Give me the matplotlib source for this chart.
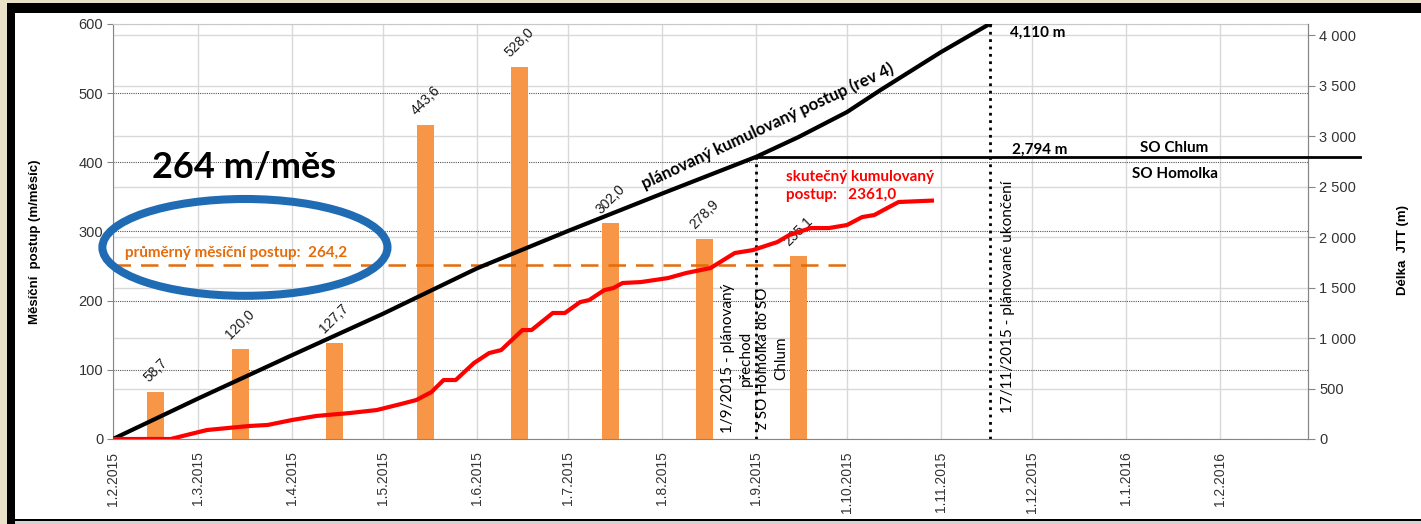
import matplotlib
matplotlib.use("Agg")
import matplotlib.pyplot as plt
import matplotlib.dates as mdates
from matplotlib.patches import Ellipse, Rectangle
from matplotlib.ticker import FuncFormatter
import pandas as pd
from datetime import datetime

plt.rcParams['font.family'] = ['Liberation Sans', 'DejaVu Sans']

# monthly advance (bars), drawn on the 15th of each month
bar_dates = pd.to_datetime(["2015-02-15", "2015-03-15", "2015-04-15", "2015-05-15",
                            "2015-06-15", "2015-07-15", "2015-08-15", "2015-09-15"])
bar_heights = [68, 130, 139, 454, 538, 312, 289, 265]
bar_labels = ["58,7", "120,0", "127,7", "443,6", "528,0", "302,0", "278,9", "235,1"]

# planned cumulative advance (rev 4), right axis
plan_dates = pd.to_datetime(["2015-02-01", "2015-03-01", "2015-04-01", "2015-05-01", "2015-06-01",
                             "2015-07-01", "2015-08-01", "2015-09-01", "2015-09-15", "2015-10-01",
                             "2015-10-12", "2015-11-01", "2015-11-17"])
plan_vals = [0, 400, 830, 1240, 1690, 2060, 2430, 2794, 2990, 3238, 3455, 3832, 4110]

# actual cumulative advance, right axis
act_dates = pd.to_datetime(["2015-02-01", "2015-02-20", "2015-02-26", "2015-03-04", "2015-03-12",
                            "2015-03-18", "2015-03-24", "2015-04-01", "2015-04-09", "2015-04-20",
                            "2015-04-29", "2015-05-07", "2015-05-12", "2015-05-17", "2015-05-21",
                            "2015-05-25", "2015-05-31", "2015-06-05", "2015-06-09", "2015-06-16",
                            "2015-06-19", "2015-06-26", "2015-06-30", "2015-07-05", "2015-07-08",
                            "2015-07-13", "2015-07-16", "2015-07-19", "2015-07-25", "2015-08-03",
                            "2015-08-09", "2015-08-17", "2015-08-25", "2015-08-31", "2015-09-05",
                            "2015-09-08", "2015-09-12", "2015-09-19", "2015-09-25", "2015-10-01",
                            "2015-10-06", "2015-10-10", "2015-10-13", "2015-10-18", "2015-10-29"])
act_vals = [0, 0, 45, 89, 112, 129, 139, 188, 228, 257,
            287, 347, 386, 465, 584, 584, 752, 851, 881, 1079,
            1079, 1248, 1248, 1356, 1376, 1475, 1495, 1545, 1554, 1594,
            1644, 1693, 1842, 1871, 1921, 1950, 2020, 2089, 2089, 2119,
            2198, 2218, 2267, 2347, 2361]

avg_level = 252
avg_span = pd.to_datetime(["2015-02-01", "2015-10-01"])
boundary_len = 2794
total_len = 4110
transfer_date = datetime(2015, 9, 1)
end_date = datetime(2015, 11, 17)

left_ticks = [0, 100, 200, 300, 400, 500, 600]
right_ticks = [0, 500, 1000, 1500, 2000, 2500, 3000, 3500, 4000]
month_ticks = pd.date_range("2015-02-01", "2016-02-01", freq="MS")

W, H = 1421, 524
fig = plt.figure(figsize=(W / 100, H / 100), dpi=100)
fig.patch.set_facecolor('#E9E2C9')
# slide frame
fig.add_artist(Rectangle((7 / W, 0), 1, 521 / H, transform=fig.transFigure,
                         facecolor='black', edgecolor='none', zorder=-10))
fig.add_artist(Rectangle((15 / W, 5 / H), 1, 506 / H, transform=fig.transFigure,
                         facecolor='white', edgecolor='none', zorder=-9))
fig.add_artist(Rectangle((15 / W, 0), 1, 3 / H, transform=fig.transFigure,
                         facecolor='#D4D4D4', edgecolor='none', zorder=-8))

ax = fig.add_axes([113 / W, 1 - 439 / H, 1195 / W, 415 / H])
ax2 = ax.twinx()
ax.set_facecolor('white')

ax.set_xlim(datetime(2015, 2, 1), datetime(2016, 3, 1))
ax.set_ylim(0, 600)
ax2.set_ylim(0, total_len)

# grid
ax.set_axisbelow(True)
ax.xaxis.grid(True, color='#D9D9D9', lw=1)
ax.yaxis.grid(True, color='#555555', ls=(0, (1, 1)), lw=0.8)
for t in right_ticks[1:]:
    ax.axhline(t * 600 / total_len, color='#D9D9D9', lw=1, zorder=0.5)

for s in ['left', 'bottom', 'right']:
    ax.spines[s].set_color('#868686')
ax.spines['top'].set_color('#C8C8C8')
for s in ['left', 'bottom', 'top']:
    ax2.spines[s].set_visible(False)
ax2.spines['right'].set_color('#868686')

ax.set_yticks(left_ticks)
ax.set_xticks(month_ticks)
ax.xaxis.set_major_formatter(FuncFormatter(
    lambda v, p: "{0.day}.{0.month}.{0.year}".format(mdates.num2date(v))))
ax.tick_params(axis='y', direction='out', length=4, color='#868686',
               labelsize=10.5, labelcolor='#333333', pad=3)
ax.tick_params(axis='x', length=0, labelsize=10, labelcolor='#333333', pad=9, labelrotation=90)
ax2.set_yticks(right_ticks)
ax2.yaxis.set_major_formatter(FuncFormatter(lambda v, p: f"{int(v):,}".replace(",", " ")))
ax2.tick_params(axis='y', direction='out', length=5, color='#868686',
                labelsize=10.5, labelcolor='#333333', pad=3)

# bars + labels
ax.bar(bar_dates, bar_heights, width=5.4, color='#F79646', zorder=2)
for d, h, lbl in zip(bar_dates, bar_heights, bar_labels):
    ax.annotate(lbl, (d, h), xytext=(0, 5), textcoords='offset points', rotation=45,
                ha='center', va='bottom', fontsize=10, color='#1A1A1A')

# average
ax.plot(avg_span, [avg_level, avg_level], color='#E46C0A', lw=1.8, dashes=(7, 4), zorder=3)
ax.text(datetime(2015, 2, 5), 269, "průměrný měsíční postup:  264,2", color='#E46C0A',
        fontsize=11, fontweight='bold', family='Lato', ha='left', va='center')
ax.add_patch(Ellipse((mdates.date2num(datetime(2015, 3, 16, 12)), 277), width=94, height=140,
                     fill=False, ec='#1F6CB5', lw=5.8, zorder=5, clip_on=False))
ax.text(datetime(2015, 2, 14), 393, "264 m/měs", fontsize=26, fontweight='bold',
        family='Lato', ha='left', va='center', color='black')

# cumulative lines
ax2.plot(plan_dates, plan_vals, color='black', lw=3, zorder=4)
ax2.plot(act_dates, act_vals, color='#FF0000', lw=3, zorder=4)
ax2.plot([transfer_date, datetime(2016, 3, 18)], [boundary_len, boundary_len],
         color='black', lw=2, clip_on=False, zorder=4)
ax2.plot([transfer_date, transfer_date], [0, boundary_len], color='black', ls=':', lw=2)
ax2.plot([end_date, end_date], [0, total_len], color='black', ls=':', lw=2)

ax2.text(datetime(2015, 11, 23, 14), 4020, "4,110 m", fontsize=11, fontweight='bold',
         family='Lato', ha='left', va='center')
ax2.text(datetime(2015, 11, 24, 10), 2861, "2,794 m", fontsize=11, fontweight='bold',
         family='Lato', ha='left', va='center')
ax2.text(datetime(2016, 1, 17), 2881, "SO Chlum", fontsize=11, fontweight='bold',
         family='Lato', ha='center', va='center')
ax2.text(datetime(2016, 1, 17), 2624, "SO Homolka", fontsize=11, fontweight='bold',
         family='Lato', ha='center', va='center')

ax.text(datetime(2015, 9, 11), 366, "skutečný kumulovaný\npostup:   2361,0", color='#FF0000',
        fontsize=11, fontweight='bold', family='Lato', ha='left', va='center', linespacing=1.4)
ax.text(datetime(2015, 9, 5), 452, "plánovaný kumulovaný postup (rev 4)", fontsize=12,
        fontweight='bold', family='Lato', rotation=25, rotation_mode='anchor',
        ha='center', va='center')
ax.text(datetime(2015, 8, 31, 12), 117, "1/9/2015 - plánovaný\npřechod\nz SO Homolka do SO\nChlum",
        fontsize=11, family='Lato', rotation=90, ha='center', va='center',
        multialignment='center', linespacing=1.35)
ax.text(datetime(2015, 11, 23), 205, "17/11/2015 - plánované ukončení", fontsize=11,
        family='Lato', rotation=90, ha='center', va='center')

fig.text(35 / W, 1 - 242 / H, "Měsíční  postup (m/měsíc)", rotation=90, ha='center',
         va='center', fontsize=9.5, fontweight='bold')
fig.text(1403 / W, 1 - 250 / H, "Délka  JTT (m)", rotation=90, ha='center',
         va='center', fontsize=9.5, fontweight='bold')

fig.savefig("out.png", dpi=100, facecolor=fig.get_facecolor())
